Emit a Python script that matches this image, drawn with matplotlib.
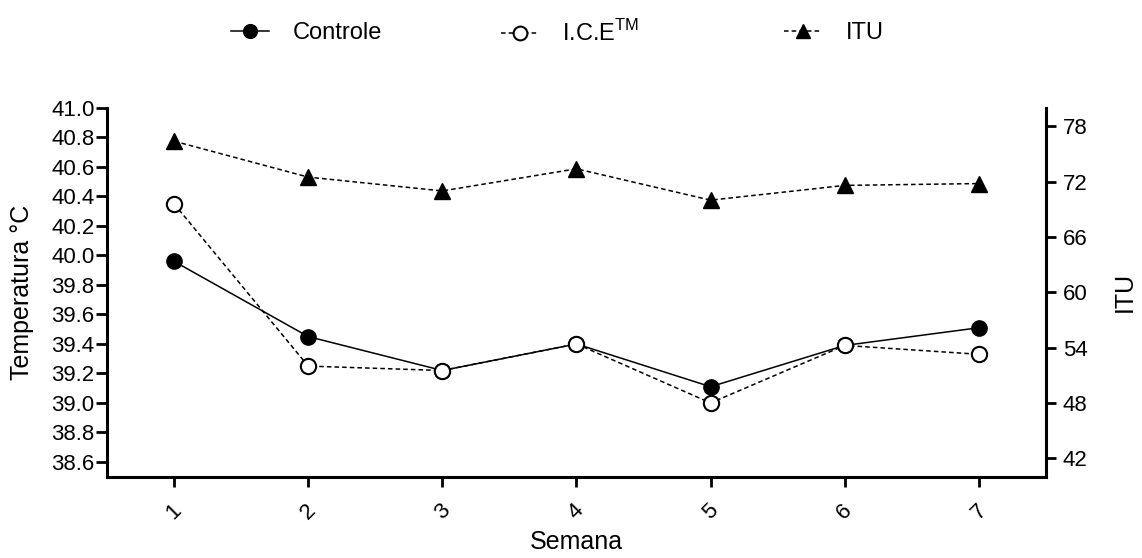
import matplotlib
matplotlib.use("Agg")
import matplotlib.pyplot as plt
import numpy as np

plt.rcParams["font.family"] = ["Liberation Sans", "DejaVu Sans"]
plt.rcParams["mathtext.fontset"] = "custom"
plt.rcParams["mathtext.rm"] = "Liberation Sans"

semana = [1, 2, 3, 4, 5, 6, 7]
controle = [39.96, 39.45, 39.22, 39.40, 39.11, 39.39, 39.51]
ice = [40.35, 39.25, 39.22, 39.40, 39.00, 39.39, 39.33]
itu = [76.4, 72.5, 71.0, 73.4, 70.0, 71.6, 71.8]
temp_ticks = [38.6, 38.8, 39.0, 39.2, 39.4, 39.6, 39.8, 40.0, 40.2, 40.4,
              40.6, 40.8, 41.0]
itu_ticks = [42, 48, 54, 60, 66, 72, 78]

fig = plt.figure(figsize=(11.42, 5.58), dpi=100)
ax = fig.add_axes([0.0937, 0.1457, 0.8222, 0.6608])
ax2 = ax.twinx()

lc, = ax.plot(semana, controle, "-", color="black", lw=1.1, marker="o",
              ms=11, mfc="black", mec="black", zorder=3)
li, = ax.plot(semana, ice, "--", color="black", lw=1.1, dashes=(3, 2),
              marker="o", ms=11, mfc="white", mec="black", mew=1.5, zorder=4)
lt, = ax2.plot(semana, itu, "--", color="black", lw=1.1, dashes=(3, 2),
               marker="^", ms=11, mfc="black", mec="black")

ax.set_xlim(0.5, 7.5)
ax.set_ylim(38.5, 41.0)
ax.set_yticks(temp_ticks)
ax.set_yticklabels([f"{v:.1f}" for v in temp_ticks])
ax.set_xticks(semana)
ax.set_xticklabels([str(s) for s in semana], rotation=45, ha="center")
ax2.set_ylim(40, 80)
ax2.set_yticks(itu_ticks)

for a in (ax, ax2):
    a.spines["top"].set_visible(False)
    for s in ("left", "right", "bottom"):
        a.spines[s].set_linewidth(2.2)
ax.spines["right"].set_visible(False)
ax2.spines["left"].set_visible(False)
ax2.spines["bottom"].set_visible(False)

ax.tick_params(axis="y", direction="out", length=8, width=2, labelsize=16, pad=1)
ax.tick_params(axis="x", direction="out", length=7, width=2, labelsize=16, pad=10)
ax2.tick_params(axis="y", direction="out", length=7, width=2, labelsize=16, pad=5)

ax.set_xlabel("Semana", fontsize=18, labelpad=4)
ax.set_ylabel("Temperatura °C", fontsize=18, labelpad=12)
ax2.set_ylabel("ITU", fontsize=18, labelpad=18)

labels = ["Controle", r"I.C.E$^{\mathrm{TM}}$", "ITU"]
xs = [231 / 1142, 501 / 1142, 784 / 1142]
for h, lab, x0 in zip([lc, li, lt], labels, xs):
    fig.legend([h], [lab], loc="center left", bbox_to_anchor=(x0, 1 - 33 / 558),
               frameon=False, fontsize=17, handlelength=1.6, handletextpad=1.0,
               borderpad=0, borderaxespad=0, markerscale=0.9)

fig.savefig("out.png", dpi=100)
